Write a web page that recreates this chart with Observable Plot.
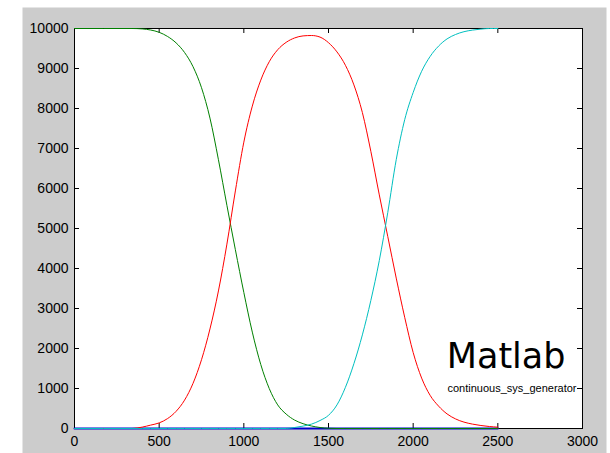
<!DOCTYPE html>
<html>
<head>
<meta charset="utf-8">
<script src="https://cdn.jsdelivr.net/npm/d3@7"></script>
<script src="https://cdn.jsdelivr.net/npm/@observablehq/plot@0.6"></script>
<style>
  html, body { margin: 0; padding: 0; background: #ffffff; }
</style>
</head>
<body>
<div id="chart"></div>
<script>
// Time grid (x values)
const time = [0,340,400,450,500,550,600,650,700,750,800,850,900,950,1000,1050,1100,1150,1200,1250,1300,1350,1400,1450,1500,1550,1600,1650,1700,1750,1800,1850,1900,1950,2000,2050,2100,2150,2200,2250,2300,2350,2400,2450,2500];

// Series values
const blue  = [0,0,0,0,0,0,0,0,0,0,0,0,0,0,0,0,0,0,0,0,0,0,0,0,0,0,0,0,0,0,0,0,0,0,0,0,0,0,0,0,0,0,0,0,0];
const green = [10000,10000,9990,9962,9905,9800,9640,9400,9045,8520,7760,6720,5580,4470,3400,2410,1600,1000,590,360,210,120,62,25,5,0,0,0,0,0,0,0,0,0,0,0,0,0,0,0,0,0,0,0,0];
const red   = [0,0,35,85,140,249,429,709,1129,1719,2489,3439,4609,5939,7159,8059,8709,9169,9469,9654,9764,9815,9825,9785,9645,9415,9080,8590,7900,6930,5840,4800,3760,2780,1900,1260,830,560,365,240,160,110,75,50,33];
const cyan  = [0,0,0,0,0,0,0,0,0,0,0,0,0,0,0,0,0,0,0,0,25,60,110,200,330,590,1030,1620,2340,3200,4200,5400,6720,7720,8400,8930,9300,9560,9740,9850,9920,9960,9985,10000,10000];

// Tick labels
const xTicks = [0,500,1000,1500,2000,2500,3000];
const yTicks = [0,1000,2000,3000,4000,5000,6000,7000,8000,9000,10000];

const titleText = ["Matlab"];
const subText = ["continuous_sys_generator"];

const rows = time.map((t, i) => ({t, blue: blue[i], green: green[i], red: red[i], cyan: cyan[i]}));

const curve = "monotone-x";

const chart = Plot.plot({
  width: 610,
  height: 453,
  marginLeft: 74,
  marginRight: 28,
  marginTop: 28,
  marginBottom: 25,
  x: {domain: [0, 3000]},
  y: {domain: [0, 10000]},
  style: {fontFamily: "'Liberation Sans', Arial, sans-serif", fontSize: "14px", background: "#ffffff"},
  marks: [
    // gray figure background
    Plot.frame({fill: "#cccccc", stroke: null, insetLeft: -52, insetTop: -21, insetRight: -24, insetBottom: -25}),
    // white axes area
    Plot.frame({fill: "#ffffff", stroke: null}),
    Plot.frame({stroke: "#000000"}),
    // inward ticks on all four sides
    Plot.tickX(xTicks, {x: d => d, insetTop: 395, stroke: "#000000"}),
    Plot.tickX(xTicks, {x: d => d, insetBottom: 395, stroke: "#000000"}),
    Plot.tickY(yTicks, {y: d => d, insetRight: 503, stroke: "#000000"}),
    Plot.tickY(yTicks, {y: d => d, insetLeft: 503, stroke: "#000000"}),
    Plot.axisX({ticks: xTicks, tickSize: 0, tickPadding: 8, tickFormat: "d", label: null, fill: "#000000"}),
    Plot.axisY({ticks: yTicks, tickSize: 0, tickPadding: 6, tickFormat: "d", label: null, fill: "#000000"}),
    // series
    Plot.lineY(rows, {x: "t", y: "blue", stroke: "#0000cc", strokeWidth: 2, curve}),
    Plot.lineY(rows, {x: "t", y: "green", stroke: "#008000", strokeWidth: 1, curve}),
    Plot.lineY(rows, {x: "t", y: "red", stroke: "#ff0000", strokeWidth: 1, curve}),
    Plot.lineY(rows, {x: "t", y: "cyan", stroke: "#00bfbf", strokeWidth: 1, curve}),
    // annotation text
    Plot.text(titleText, {text: d => d, frameAnchor: "bottom-right", textAnchor: "end", lineAnchor: "bottom", dx: -17, dy: -61, fontSize: 35, fontFamily: "'DejaVu Sans', sans-serif", fill: "#000000"}),
    Plot.text(subText, {text: d => d, frameAnchor: "bottom-right", textAnchor: "end", lineAnchor: "bottom", dx: -6, dy: -37, fontSize: 11, fontFamily: "'Liberation Sans', Arial, sans-serif", fill: "#000000"})
  ]
});

document.getElementById("chart").appendChild(chart);
</script>
</body>
</html>
